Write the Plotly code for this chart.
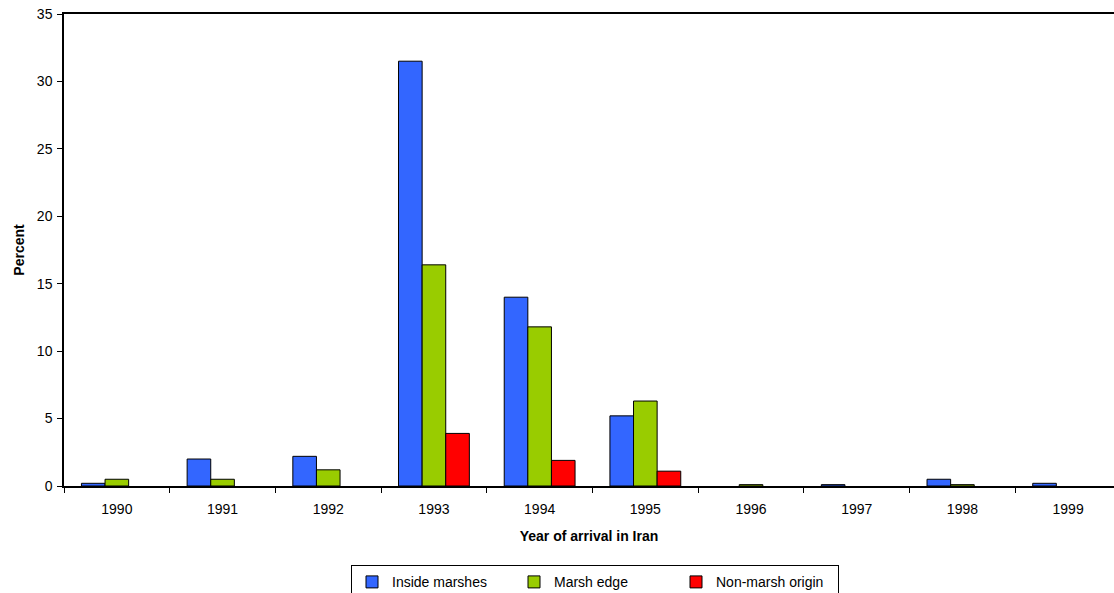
import plotly.graph_objects as go

years = ["1990", "1991", "1992", "1993", "1994", "1995", "1996", "1997", "1998", "1999"]
inside_marshes = [0.2, 2.0, 2.2, 31.5, 14.0, 5.2, 0.0, 0.1, 0.5, 0.2]
marsh_edge = [0.5, 0.5, 1.2, 16.4, 11.8, 6.3, 0.1, 0.0, 0.1, 0.0]
non_marsh = [0.0, 0.0, 0.0, 3.9, 1.9, 1.1, 0.0, 0.0, 0.0, 0.0]

series = [
    ("Inside marshes", inside_marshes, "#3366FF"),
    ("Marsh edge", marsh_edge, "#99CC00"),
    ("Non-marsh origin", non_marsh, "#FF0000"),
]

FONT = "Liberation Sans, Arial, sans-serif"

fig = go.Figure()
for name, vals, col in series:
    fig.add_trace(go.Bar(
        x=years, y=[v if v else None for v in vals], name=name,
        marker=dict(color=col, line=dict(color="#000000", width=1)),
    ))

fig.update_layout(
    width=1114, height=593,
    margin=dict(l=64, r=0, t=14, b=107, autoexpand=False),
    paper_bgcolor="white", plot_bgcolor="white",
    barmode="group", bargap=0.33, bargroupgap=0,
    font=dict(family=FONT, size=14, color="#000000"),
    showlegend=True,
    legend=dict(
        orientation="h", x=(595 - 64) / 1050, xanchor="center", y=-0.168, yanchor="top",
        bordercolor="#000000", borderwidth=1, bgcolor="white",
        font=dict(size=14), itemwidth=30, entrywidth=117,
        traceorder="normal",
    ),
)

fig.update_xaxes(
    type="category", range=[-0.5, 9.434], automargin=False,
    showline=True, linecolor="#000000", linewidth=1.5, mirror=True,
    ticks="outside", ticklen=5, tickcolor="#000000", tickson="boundaries",
    showgrid=False, zeroline=False, ticklabelstandoff=9,
    tickfont=dict(size=14),
    title=dict(text="<b>Year of arrival in Iran</b>", font=dict(size=14), standoff=16),
)
fig.update_yaxes(
    range=[0, 35], dtick=5, automargin=False,
    showline=True, linecolor="#000000", linewidth=1.5,
    ticks="outside", ticklen=5, tickcolor="#000000",
    showgrid=False, zeroline=False, ticklabelstandoff=2,
    tickfont=dict(size=14),
    title=dict(text="<b>Percent</b>", font=dict(size=14), standoff=9),
)

post = (
    "document.documentElement.style.overflow='hidden';"
    "document.body.style.margin='0';document.body.style.overflow='hidden';"
    "document.querySelectorAll('.plotly-graph-div, .svg-container, .main-svg')"
    ".forEach(function(e){e.style.overflow='hidden';});"
)

fig.write_html("out.html", config={"displayModeBar": False}, post_script=post)
